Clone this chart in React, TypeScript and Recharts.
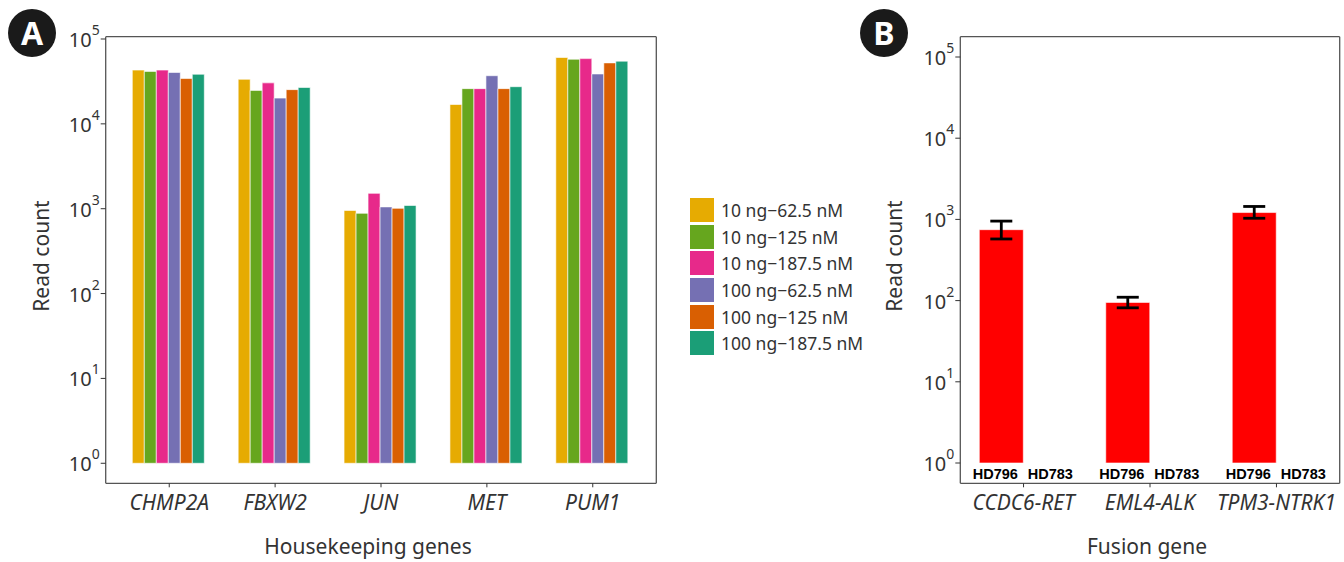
import React from 'react';
import { BarChart, Bar, XAxis, YAxis, ErrorBar } from 'recharts';

// Panel A: housekeeping genes
const genes = ['CHMP2A', 'FBXW2', 'JUN', 'MET', 'PUM1'];
const conditions = ['10 ng\u221262.5 nM', '10 ng\u2212125 nM', '10 ng\u2212187.5 nM', '100 ng\u221262.5 nM', '100 ng\u2212125 nM', '100 ng\u2212187.5 nM'];
const conditionColors = ['#E6AB02', '#66A61E', '#E7298A', '#7570B3', '#D95F02', '#1B9E77'];
const ng10_62 = [43000, 33500, 953, 16900, 60500];
const ng10_125 = [41500, 24800, 882, 26000, 57700];
const ng10_187 = [43000, 30400, 1516, 26000, 58700];
const ng100_62 = [40300, 20100, 1050, 36900, 38700];
const ng100_125 = [34200, 25300, 1010, 26000, 52300];
const ng100_187 = [38400, 26800, 1091, 27400, 54800];
const seriesA = [ng10_62, ng10_125, ng10_187, ng100_62, ng100_125, ng100_187];

// Panel B: fusion genes
const fusions = ['CCDC6\u2212RET', 'EML4\u2212ALK', 'TPM3\u2212NTRK1'];
const samples = ['HD796', 'HD783'];
const hd796 = [747, 95, 1214];
const hd796Low = [574, 81.5, 1033];
const hd796High = [953, 110, 1443];
const hd783 = [0, 0, 0];

const logTicks = [1, 10, 100, 1000, 10000, 100000];

const FONT = '"Noto Sans", "Open Sans", sans-serif';
const TEXT = '#333333';
const BORDER = { stroke: '#555555', strokeWidth: 1.3 };

const dataA = genes.map((gene, i) => {
  const row: Record<string, any> = { gene };
  seriesA.forEach((s, k) => {
    row['s' + k] = [1, s[i]];
  });
  return row;
});

const dataB = fusions.map((fusion, i) => ({
  fusion,
  hd796: [1, hd796[i]],
  hd783: [1, Math.max(1, hd783[i])],
  err: [hd796[i] - hd796Low[i], hd796High[i] - hd796[i]],
}));

const domainA: [number, number] = [Math.pow(10, -0.236), Math.pow(10, 5.027)];
const domainB: [number, number] = [Math.pow(10, -0.25), Math.pow(10, 5.25)];

const PowTick = (props: any) => {
  const { x, y, payload } = props;
  const exp = Math.round(Math.log10(payload.value));
  return (
    <text x={x} y={y} dy={8} textAnchor="end" fill={TEXT} fontFamily={FONT} fontSize={20}>
      10
      <tspan dy={-12} fontSize={14}>{exp}</tspan>
    </text>
  );
};

const CatTick = (props: any) => {
  const { x, y, payload } = props;
  return (
    <text x={x} y={y} dy={21} textAnchor="middle" fill={TEXT} fontFamily={FONT} fontSize={21} fontStyle="italic">
      {payload.value}
    </text>
  );
};

const xTitle = (text: string, dx: number) => (props: any) => {
  const { viewBox } = props;
  return (
    <text x={viewBox.x + viewBox.width / 2 + dx} y={viewBox.y + 71} textAnchor="middle" fill={TEXT} fontFamily={FONT} fontSize={21}>
      {text}
    </text>
  );
};

const yTitle = (text: string, cx: number) => (props: any) => {
  const { viewBox } = props;
  const cy = viewBox.y + viewBox.height / 2 - 4;
  return (
    <text x={cx} y={cy} transform={`rotate(-90 ${cx} ${cy})`} dy={7} textAnchor="middle" fill={TEXT} fontFamily={FONT} fontSize={21}>
      {text}
    </text>
  );
};

// sample names under each pair of bars (HD796 | HD783)
const sampleLabels = (props: any) => {
  const { x, y, width, height } = props;
  const base = y + height + 16;
  const style = { fill: '#000', fontFamily: '"Liberation Sans", Arial, sans-serif', fontWeight: 'bold' as const, fontSize: 14.5 };
  return (
    <g>
      <text x={x + width / 2 - 6} y={base} textAnchor="middle" {...style}>{samples[0]}</text>
      <text x={x + width * 1.5 + 5} y={base} textAnchor="middle" {...style}>{samples[1]}</text>
    </g>
  );
};

const LegendA = () => (
  <div style={{ position: 'absolute', left: 690, top: 197, fontFamily: FONT, fontSize: 17.5, color: TEXT }}>
    {conditions.map((c, i) => (
      <div key={c} style={{ display: 'flex', alignItems: 'center', height: 26.6 }}>
        <span style={{ width: 24, height: 24, background: conditionColors[i], display: 'inline-block', marginRight: 7 }} />
        <span>{c}</span>
      </div>
    ))}
  </div>
);

const Badge = ({ letter, left }: { letter: string; left: number }) => (
  <div
    style={{
      position: 'absolute', left, top: 9, width: 48, height: 48, borderRadius: '50%', background: '#1a1a1a',
      color: '#fff', fontFamily: FONT, fontWeight: 'bold', fontSize: 32, lineHeight: '48px', textAlign: 'center',
    }}
  >
    {letter}
  </div>
);

// top and right axes only draw the panel frame
const frameAxes = (domain: [number, number], cat: string) => [
  <XAxis key="fx" xAxisId="frame" orientation="top" dataKey={cat} height={1} axisLine={BORDER} tick={false} tickLine={false} />,
  <YAxis key="fy" yAxisId="frame" orientation="right" type="number" scale="log" domain={domain} width={1} axisLine={BORDER} tick={false} tickLine={false} />,
];

export default function App() {
  return (
    <div style={{ position: 'absolute', left: 0, top: 0, width: 1344, height: 562, background: '#fff' }}>
      <div style={{ position: 'absolute', left: 0, top: 0 }}>
        <BarChart width={680} height={562} data={dataA} margin={{ top: 35.7, right: 22.7, bottom: 0, left: 0 }} barCategoryGap={16} barGap={0}>
          <XAxis dataKey="gene" height={78.7} padding={{ left: 10.6, right: 10.6 }} axisLine={BORDER} tickSize={4} tickLine={{ stroke: TEXT }} tick={<CatTick />} label={{ content: xTitle('Housekeeping genes', -13) }} />
          <YAxis type="number" scale="log" domain={domainA} allowDataOverflow ticks={logTicks} width={105.7} axisLine={BORDER} tickSize={5} tickMargin={1} tickLine={{ stroke: TEXT }} tick={<PowTick />} label={{ content: yTitle('Read count', 42) }} />
          {frameAxes(domainA, 'gene')}
          {conditions.map((c, k) => (
            <Bar key={c} dataKey={'s' + k} name={c} fill={conditionColors[k]} stroke="#ffffff" strokeWidth={0.6} isAnimationActive={false} />
          ))}
        </BarChart>
      </div>
      <LegendA />
      <div style={{ position: 'absolute', left: 860, top: 0 }}>
        <BarChart width={484} height={562} data={dataB} margin={{ top: 35.7, right: 3.3, bottom: 0, left: 0 }} barCategoryGap={19} barGap={0}>
          <XAxis dataKey="fusion" height={78.7} axisLine={BORDER} tickSize={4} tickLine={{ stroke: TEXT }} tick={<CatTick />} label={{ content: xTitle('Fusion gene', -3) }} />
          <YAxis type="number" scale="log" domain={domainB} allowDataOverflow ticks={logTicks} width={100.3} axisLine={BORDER} tickSize={5} tickMargin={1} tickLine={{ stroke: TEXT }} tick={<PowTick />} label={{ content: yTitle('Read count', 35) }} />
          {frameAxes(domainB, 'fusion')}
          <Bar dataKey="hd796" name={samples[0]} fill="#FF0000" stroke="#ffffff" strokeWidth={0.6} isAnimationActive={false} label={sampleLabels}>
            <ErrorBar dataKey="err" direction="y" width={11} stroke="#000" strokeWidth={2.8} />
          </Bar>
          <Bar dataKey="hd783" name={samples[1]} fill="#FF0000" stroke="#ffffff" strokeWidth={0.6} isAnimationActive={false} />
        </BarChart>
      </div>
      <Badge letter="A" left={8} />
      <Badge letter="B" left={860} />
    </div>
  );
}
